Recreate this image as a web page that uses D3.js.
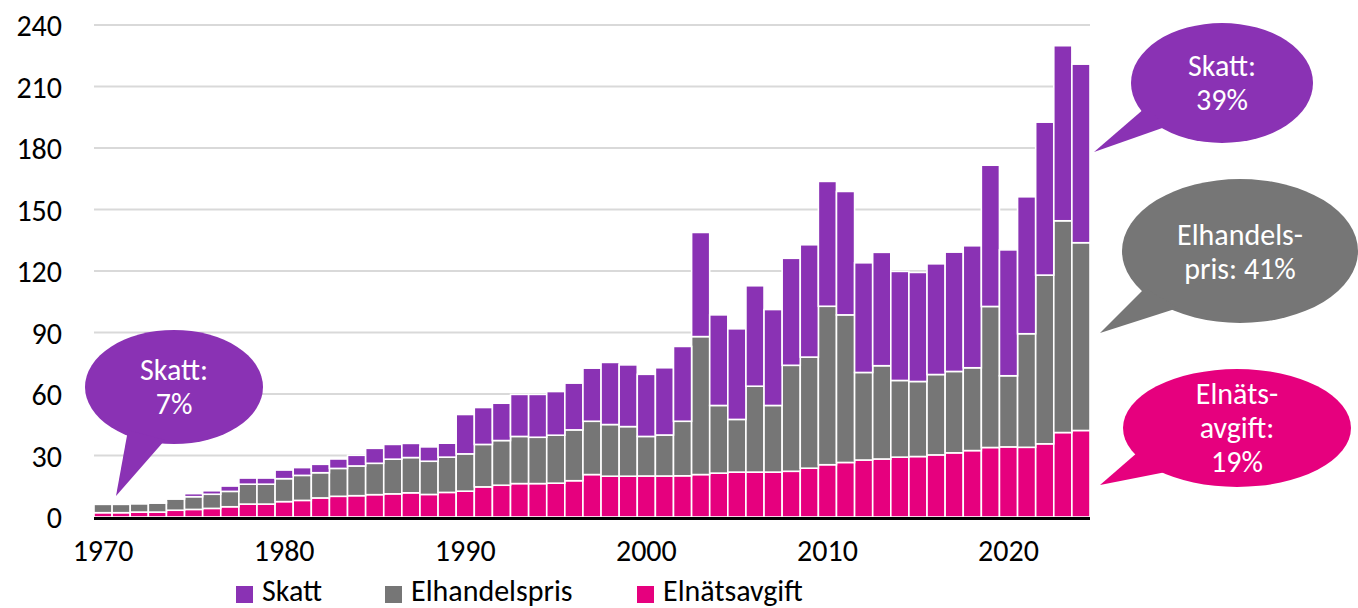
<!DOCTYPE html>
<html><head><meta charset="utf-8">
<script src="https://cdn.jsdelivr.net/npm/d3@7"></script>
<style>
html,body{margin:0;padding:0;background:#fff;}
svg{display:block;}
text{font-family:Carlito,Lato,"Open Sans",sans-serif;}
</style></head>
<body>
<svg id="chart" width="1358" height="608"></svg>
<script>
const years = [1970,1971,1972,1973,1974,1975,1976,1977,1978,1979,1980,1981,1982,1983,1984,1985,1986,1987,1988,1989,1990,1991,1992,1993,1994,1995,1996,1997,1998,1999,2000,2001,2002,2003,2004,2005,2006,2007,2008,2009,2010,2011,2012,2013,2014,2015,2016,2017,2018,2019,2020,2021,2022,2023,2024];
const elnatsavgift = [2.1,2.1,2.4,2.4,3.3,3.7,4.2,5.0,6.3,6.3,7.5,8.1,9.3,10.1,10.4,10.9,11.3,11.8,11.0,12.0,12.6,14.7,15.5,16.3,16.3,16.5,17.7,20.7,19.9,19.9,20.0,20.0,20.1,20.7,21.4,21.9,21.9,21.9,22.3,23.8,25.5,26.6,27.8,28.3,29.2,29.5,30.3,31.3,32.4,33.9,34.2,34.0,35.7,41.2,42.2];
const elhandelspris = [4.1,4.1,4.1,4.4,5.5,6.2,6.9,7.5,9.7,9.7,11.2,12.2,12.3,13.6,14.5,15.3,16.9,17.2,16.2,17.2,18.2,20.7,21.8,23.0,22.6,23.4,24.8,26.0,25.2,24.2,19.3,20.0,26.6,67.3,33.0,25.7,41.9,32.5,51.7,54.2,77.3,72.0,42.7,45.5,37.4,36.6,39.2,39.7,40.4,68.8,34.7,55.4,82.3,103.3,91.6];
const skatt = [0.5,0.5,0.5,0.5,0.4,1.5,1.7,2.6,3.0,3.0,4.2,3.8,4.1,4.6,5.2,7.3,7.2,6.9,7.0,6.8,19.2,18.0,18.2,20.5,20.9,21.3,22.8,25.9,30.3,30.1,30.3,32.8,36.5,50.8,44.2,44.2,49.0,46.8,52.2,54.8,60.9,60.2,53.5,55.3,53.2,53.2,54.0,58.2,59.5,68.9,61.4,66.8,74.6,85.4,87.1];
const seriesNames = ["Elnätsavgift","Elhandelspris","Skatt"];
const seriesColors = ["#E6007E","#767676","#8A32B4"];
const yTicks = [0,30,60,90,120,150,180,210,240];
const xTickLabels = [1970,1980,1990,2000,2010,2020];
const legendOrder = ["Skatt","Elhandelspris","Elnätsavgift"];
const bubbleTexts = [["Skatt:","7%"],["Skatt:","39%"],["Elhandels-","pris: 41%"],["Elnäts-","avgift:","19%"]];

const svg = d3.select("#chart");
const plot = {left:94, right:1090, top:25, bottom:517};

const x = d3.scaleBand().domain(years).range([plot.left, plot.right]).padding(0);
const y = d3.scaleLinear().domain([0,240]).range([plot.bottom, plot.top]);

const table = years.map((yr,i)=>({year:yr, "Elnätsavgift":elnatsavgift[i], "Elhandelspris":elhandelspris[i], "Skatt":skatt[i]}));
const stack = d3.stack().keys(seriesNames)(table);
const color = d3.scaleOrdinal().domain(seriesNames).range(seriesColors);

// gridlines
svg.append("g").selectAll("line").data(yTicks.filter(t=>t>0)).join("line")
  .attr("x1", plot.left).attr("x2", plot.right)
  .attr("y1", d=>y(d)).attr("y2", d=>y(d))
  .attr("stroke","#D9D9D9").attr("stroke-width",2);

// y axis labels
const yAxis = d3.axisLeft(y).tickValues(yTicks).tickSize(0).tickPadding(0);
const gy = svg.append("g").attr("transform","translate(62,0)").call(yAxis);
gy.select(".domain").remove();
gy.selectAll("text").attr("font-size",30).attr("fill","#000").attr("font-family","Carlito,Lato,sans-serif").attr("dy","0.36em");

// bars
svg.append("g").selectAll("g").data(stack).join("g")
  .attr("fill", d=>color(d.key))
  .selectAll("rect").data(d=>d).join("rect")
  .attr("x", d=>x(d.data.year))
  .attr("width", x.bandwidth())
  .attr("y", d=>y(d[1]))
  .attr("height", d=>Math.max(0, y(d[0]) - y(d[1])))
  .attr("stroke","#fff").attr("stroke-width",1.6);

// zero axis line
svg.append("line").attr("x1",plot.left).attr("x2",plot.right)
  .attr("y1",y(0)+1.5).attr("y2",y(0)+1.5).attr("stroke","#000").attr("stroke-width",3);

// x axis labels
const xAxis = d3.axisBottom(x).tickValues(xTickLabels).tickSize(0).tickPadding(0);
const gx = svg.append("g").attr("transform","translate(0,540)").call(xAxis);
gx.select(".domain").remove();
gx.selectAll("text").attr("font-size",30).attr("fill","#000").attr("font-family","Carlito,Lato,sans-serif").attr("dy","0.71em");

// legend
const legendX = [236, 385, 637];
const lg = svg.append("g");
legendOrder.forEach((name,i)=>{
  const g = lg.append("g").attr("transform",`translate(${legendX[i]},0)`);
  g.append("rect").attr("x",0).attr("y",586).attr("width",17).attr("height",17).attr("fill",color(name));
  g.append("text").attr("x",26).attr("y",601).attr("font-size",30).attr("fill","#000").text(name);
});

// bubbles
const bubbles = [
  {cx:174, cy:387, rx:89, ry:57, fill:color("Skatt"), tail:[[128,430],[165,440],[116,496]], lines:bubbleTexts[0], y0:380},
  {cx:1222, cy:83, rx:91, ry:60, fill:color("Skatt"), tail:[[1145,108],[1168,126],[1094,152]], lines:bubbleTexts[1], y0:76},
  {cx:1240, cy:251, rx:118, ry:72, fill:color("Elhandelspris"), tail:[[1145,288],[1178,308],[1100,333]], lines:bubbleTexts[2], y0:245},
  {cx:1237, cy:428, rx:114, ry:59, fill:color("Elnätsavgift"), tail:[[1138,452],[1166,472],[1100,485]], lines:bubbleTexts[3], y0:404}
];
const bg = svg.append("g");
bubbles.forEach(b=>{
  bg.append("ellipse").attr("cx",b.cx).attr("cy",b.cy).attr("rx",b.rx).attr("ry",b.ry).attr("fill",b.fill);
  bg.append("path").attr("d", d3.line()(b.tail)+"Z").attr("fill",b.fill);
  b.lines.forEach((t,j)=>{
    bg.append("text").attr("x",b.cx).attr("y",b.y0 + j*34).attr("text-anchor","middle")
      .attr("font-size",30).attr("fill","#fff").text(t);
  });
});
</script>
</body></html>
